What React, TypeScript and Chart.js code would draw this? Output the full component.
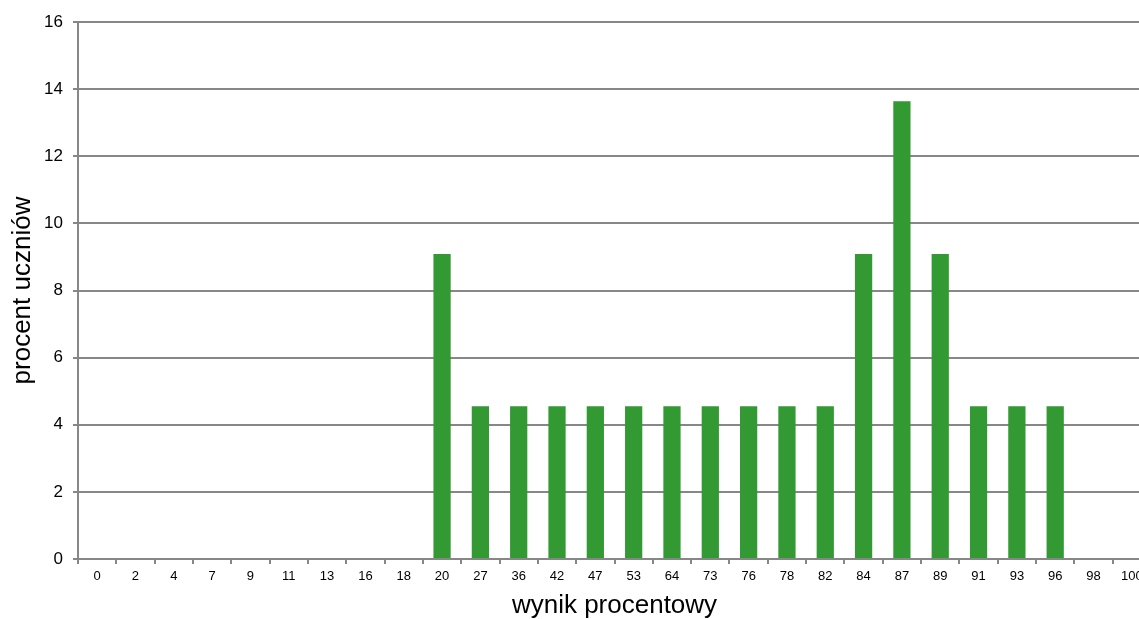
import React, { useEffect, useRef } from "react";
import { Chart, registerables } from "chart.js";

Chart.register(...registerables);

const categories = ["0", "2", "4", "7", "9", "11", "13", "16", "18", "20", "27", "36", "42", "47", "53", "64", "73", "76", "78", "82", "84", "87", "89", "91", "93", "96", "98", "100"];
const percentValues = [0, 0, 0, 0, 0, 0, 0, 0, 0, 9.09, 4.55, 4.55, 4.55, 4.55, 4.55, 4.55, 4.55, 4.55, 4.55, 4.55, 9.09, 13.64, 9.09, 4.55, 4.55, 4.55, 0, 0];
const yTicks = [0, 2, 4, 6, 8, 10, 12, 14, 16];
const xTitle = "wynik procentowy";
const yTitle = "procent uczniów";

const GRID = "#878787";
const FONT = "Arial, 'Liberation Sans', sans-serif";

export default function App() {
  const canvasRef = useRef<HTMLCanvasElement | null>(null);

  useEffect(() => {
    if (!canvasRef.current) return;
    const chart = new Chart(canvasRef.current, {
      type: "bar",
      data: {
        labels: categories,
        datasets: [
          {
            data: percentValues,
            backgroundColor: "#339933",
            borderWidth: 0,
            categoryPercentage: 1,
            barPercentage: 0.45,
          },
        ],
      },
      options: {
        animation: false,
        responsive: true,
        maintainAspectRatio: false,
        layout: { padding: { left: 0, right: 9, top: 22, bottom: 0 } },
        plugins: { legend: { display: false }, tooltip: { enabled: false } },
        scales: {
          x: {
            offset: true,
            grid: {
              offset: true,
              drawOnChartArea: false,
              drawTicks: true,
              tickLength: 5,
              color: GRID,
              lineWidth: 2,
            },
            border: { display: true, color: GRID, width: 2 },
            ticks: {
              color: "#000",
              font: { family: FONT, size: 13 },
              padding: 5,
              maxRotation: 0,
              autoSkip: false,
            },
            title: {
              display: true,
              text: xTitle,
              color: "#000",
              font: { family: FONT, size: 26, lineHeight: 1 },
              padding: { top: 0, bottom: 0 },
            },
            afterFit: (scale: any) => {
              scale.height = 60;
            },
          },
          y: {
            min: 0,
            max: 16,
            afterBuildTicks: (scale: any) => {
              scale.ticks = yTicks.map((v) => ({ value: v }));
            },
            grid: {
              color: GRID,
              lineWidth: 2,
              drawTicks: true,
              tickLength: 5,
            },
            border: { display: true, color: GRID, width: 2 },
            ticks: {
              color: "#000",
              font: { family: FONT, size: 17 },
              padding: 10,
            },
            title: {
              display: true,
              text: yTitle,
              color: "#000",
              font: { family: FONT, size: 26, lineHeight: 1 },
              padding: { top: 10, bottom: 0 },
            },
            afterFit: (scale: any) => {
              scale.width = 78;
            },
          },
        },
      },
    });
    return () => chart.destroy();
  }, []);

  return (
    <div style={{ position: "fixed", left: 0, top: 0, width: 1139, height: 619, overflow: "hidden", background: "#fff" }}>
      <div style={{ position: "absolute", left: 0, top: 0, width: 1160, height: 619 }}>
        <canvas ref={canvasRef} />
      </div>
    </div>
  );
}
